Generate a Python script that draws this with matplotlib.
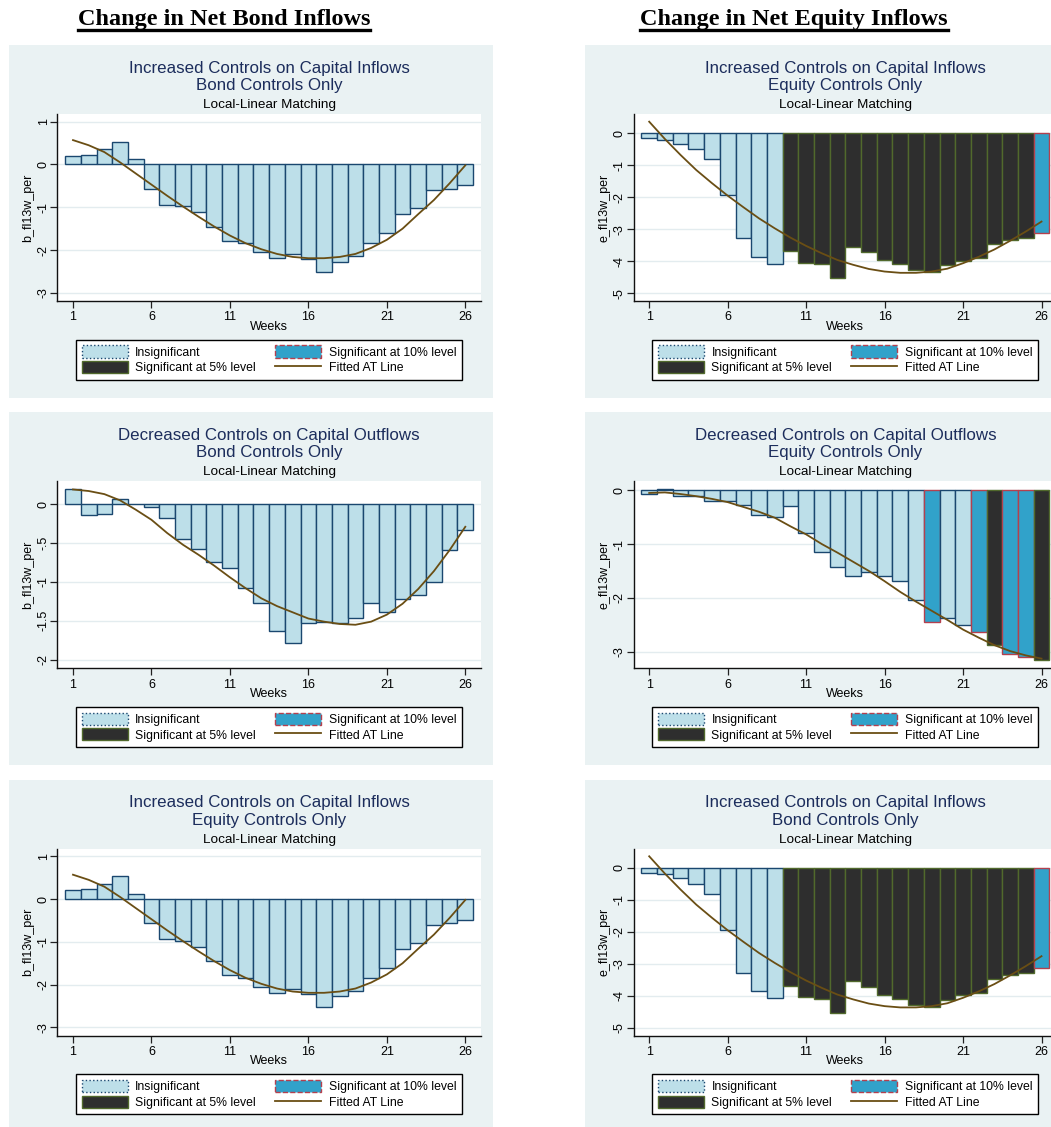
import matplotlib
matplotlib.use("Agg")
import matplotlib.pyplot as plt
from matplotlib.patches import Patch, Rectangle
from matplotlib.lines import Line2D

plt.rcParams['font.family'] = ['Liberation Sans', 'DejaVu Sans']

W, H, DPI = 1051, 1127, 100

weeks = list(range(1, 27))

# Net bond inflows, increased controls on capital inflows
bond_in_vals = [0.21, 0.23, 0.36, 0.53, 0.13, -0.57, -0.94, -0.98, -1.12, -1.45,
                -1.78, -1.84, -2.05, -2.19, -2.09, -2.21, -2.51, -2.27, -2.14, -1.84,
                -1.61, -1.16, -1.02, -0.60, -0.57, -0.48]
bond_in_fit = [0.57, 0.45, 0.29, 0.05, -0.21, -0.47, -0.73, -0.98, -1.22, -1.45,
               -1.66, -1.84, -1.98, -2.09, -2.16, -2.19, -2.19, -2.16, -2.09, -1.95,
               -1.76, -1.50, -1.16, -0.83, -0.44, -0.02]
bond_in_sig = [0] * 26

# Net equity inflows, increased controls on capital inflows
eq_in_vals = [-0.16, -0.20, -0.33, -0.49, -0.81, -1.94, -3.28, -3.86, -4.07, -3.69,
              -4.05, -4.09, -4.53, -3.55, -3.71, -3.96, -4.10, -4.28, -4.34, -4.13,
              -3.98, -3.91, -3.46, -3.34, -3.28, -3.13]
eq_in_fit = [0.36, -0.18, -0.68, -1.15, -1.56, -1.95, -2.31, -2.66, -2.97, -3.26,
             -3.52, -3.75, -3.96, -4.11, -4.24, -4.32, -4.36, -4.36, -4.32, -4.23,
             -4.06, -3.86, -3.63, -3.36, -3.07, -2.76]
eq_in_sig = [0, 0, 0, 0, 0, 0, 0, 0, 0, 2, 2, 2, 2, 2, 2, 2, 2, 2, 2, 2, 2, 2, 2, 2, 2, 1]

# Net bond inflows, decreased controls on capital outflows
bond_out_vals = [0.19, -0.14, -0.13, 0.07, 0.005, -0.04, -0.18, -0.45, -0.58, -0.74,
                 -0.82, -1.08, -1.27, -1.63, -1.79, -1.53, -1.52, -1.53, -1.46, -1.27,
                 -1.38, -1.22, -1.17, -1.00, -0.59, -0.33]
bond_out_fit = [0.19, 0.17, 0.13, 0.05, -0.07, -0.20, -0.37, -0.52, -0.65, -0.79,
                -0.94, -1.08, -1.21, -1.31, -1.39, -1.47, -1.51, -1.54, -1.55, -1.51,
                -1.42, -1.28, -1.09, -0.86, -0.59, -0.29]
bond_out_sig = [0] * 26

# Net equity inflows, decreased controls on capital outflows
eq_out_vals = [-0.06, 0.03, -0.11, -0.10, -0.20, -0.20, -0.28, -0.46, -0.50, -0.30,
               -0.80, -1.15, -1.43, -1.60, -1.52, -1.60, -1.69, -2.04, -2.44, -2.37,
               -2.50, -2.63, -2.88, -3.04, -3.10, -3.15]
eq_out_fit = [-0.05, -0.04, -0.07, -0.11, -0.16, -0.22, -0.31, -0.40, -0.51, -0.67,
              -0.82, -1.00, -1.16, -1.33, -1.50, -1.69, -1.89, -2.07, -2.24, -2.41,
              -2.59, -2.74, -2.88, -2.99, -3.07, -3.13]
eq_out_sig = [0, 0, 0, 0, 0, 0, 0, 0, 0, 0, 0, 0, 0, 0, 0, 0, 0, 0, 1, 0, 0, 1, 2, 1, 1, 2]

x_ticks = [1, 6, 11, 16, 21, 26]
bond_yticks = [1, 0, -1, -2, -3]
bond_ylabels = ['1', '0', '-1', '-2', '-3']
eq_yticks = [0, -1, -2, -3, -4, -5]
eq_ylabels = ['0', '-1', '-2', '-3', '-4', '-5']
out_bond_yticks = [0, -0.5, -1, -1.5, -2]
out_bond_ylabels = ['0', '-.5', '-1', '-1.5', '-2']
out_eq_yticks = [0, -1, -2, -3]
out_eq_ylabels = ['0', '-1', '-2', '-3']

column_headers = ['Change in Net Bond Inflows', 'Change in Net Equity Inflows']
legend_labels = ['Insignificant', 'Significant at 5% level',
                 'Significant at 10% level', 'Fitted AT Line']

# colours
BG = '#EAF2F3'
GRID = '#E3ECEF'
TITLE_C = '#1C2D5C'
INSIG_FILL, INSIG_EDGE = '#BDDFE9', '#1A476F'
SIG10_FILL, SIG10_EDGE = '#31A2CA', '#B4404E'
SIG5_FILL, SIG5_EDGE = '#2E2E2E', '#51692C'
FIT_C = '#6A4E14'

FILLS = {0: INSIG_FILL, 1: SIG10_FILL, 2: SIG5_FILL}
EDGES = {0: INSIG_EDGE, 1: SIG10_EDGE, 2: SIG5_EDGE}

fig = plt.figure(figsize=(W / DPI, H / DPI), dpi=DPI)
fig.patch.set_facecolor('white')

COL_DX = 576.2
ROW_DY = 367.3


def fx(px):
    return px / W


def fy(py):
    return 1 - py / H


def panel(col, row, title2, vals, fit, sig, yticks, ylabels, ylim, ylabel):
    dx, dy = col * COL_DX, row * ROW_DY
    # panel background
    fig.add_artist(Rectangle((fx(9 + dx), fy(398 + dy)), 483.6 / W, 353 / H,
                             transform=fig.transFigure, facecolor=BG,
                             edgecolor='none', zorder=0))
    left, right, top, bottom = 57.3 + dx, 481 + dx, 114 + dy, 301 + dy
    ax = fig.add_axes([fx(left), fy(bottom), (right - left) / W, (bottom - top) / H])
    ax.set_facecolor('white')
    ax.bar(weeks, vals, width=1.0,
           color=[FILLS[s] for s in sig], edgecolor=[EDGES[s] for s in sig],
           linewidth=1.0, zorder=2)
    ax.plot(weeks, fit, color=FIT_C, lw=1.3, zorder=3)
    ax.set_xlim(0, 27)
    ax.set_ylim(*ylim)
    ax.set_xticks(x_ticks)
    ax.set_xticklabels([str(t) for t in x_ticks], fontsize=9)
    ax.set_yticks(yticks)
    ax.set_yticklabels(ylabels, fontsize=9, rotation=90, va='center')
    ax.tick_params(axis='x', length=5, width=0.9, color='#222222', pad=2.5)
    ax.tick_params(axis='y', length=5, width=0.9, color='#222222', pad=0.5)
    ax.set_axisbelow(True)
    ax.yaxis.grid(True, color=GRID, lw=1.0)
    for s in ('top', 'right'):
        ax.spines[s].set_visible(False)
    for s in ('left', 'bottom'):
        ax.spines[s].set_color('#111111')
        ax.spines[s].set_linewidth(1.0)
    ax.set_xlabel('Weeks', fontsize=9)
    ax.xaxis.set_label_coords(0.5, -0.105)
    ax.set_ylabel(ylabel, fontsize=9, va='center', ha='center')
    ax.yaxis.set_label_coords((28.0 - 57.3) / (right - left), 0.5)

    cx = (left + right) / 2
    fig.text(fx(cx), fy(68.3 + dy), 'Increased Controls on Capital Inflows' if row != 1
             else 'Decreased Controls on Capital Outflows',
             ha='center', va='center', fontsize=12.2, color=TITLE_C)
    fig.text(fx(cx), fy(85.7 + dy), title2, ha='center', va='center',
             fontsize=12.2, color=TITLE_C)
    fig.text(fx(cx), fy(105 + dy), 'Local-Linear Matching', ha='center',
             va='center', fontsize=9.7, color='black')

    handles = [
        Patch(facecolor=INSIG_FILL, edgecolor=INSIG_EDGE, linestyle=':', linewidth=1.0),
        Patch(facecolor=SIG5_FILL, edgecolor=SIG5_EDGE, linewidth=1.0),
        Patch(facecolor=SIG10_FILL, edgecolor=SIG10_EDGE, linestyle='--', linewidth=1.0),
        Line2D([], [], color=FIT_C, lw=1.3),
    ]
    lx0, lx1, ly0 = 76 + dx, 461.7 + dx, 340 + dy
    leg = ax.legend(handles, legend_labels, ncol=2, loc='upper left',
                    bbox_to_anchor=(fx(lx0), fy(ly0), (lx1 - lx0) / W, 0.0001),
                    bbox_transform=fig.transFigure, mode='expand', borderaxespad=0,
                    fontsize=8.8, frameon=True, fancybox=False, framealpha=1,
                    edgecolor='black', handlelength=3.8, handleheight=1.15,
                    handletextpad=0.6, labelspacing=0.2, borderpad=0.45,
                    columnspacing=1.5)
    leg.get_frame().set_linewidth(1.0)
    return ax


panel(0, 0, 'Bond Controls Only', bond_in_vals, bond_in_fit, bond_in_sig,
      bond_yticks, bond_ylabels, (-3.19, 1.18), 'b_fl13w_per')
panel(1, 0, 'Equity Controls Only', eq_in_vals, eq_in_fit, eq_in_sig,
      eq_yticks, eq_ylabels, (-5.24, 0.60), 'e_fl13w_per')
panel(0, 1, 'Bond Controls Only', bond_out_vals, bond_out_fit, bond_out_sig,
      out_bond_yticks, out_bond_ylabels, (-2.11, 0.295), 'b_fl13w_per')
panel(1, 1, 'Equity Controls Only', eq_out_vals, eq_out_fit, eq_out_sig,
      out_eq_yticks, out_eq_ylabels, (-3.31, 0.167), 'e_fl13w_per')
panel(0, 2, 'Equity Controls Only', bond_in_vals, bond_in_fit, bond_in_sig,
      bond_yticks, bond_ylabels, (-3.19, 1.18), 'b_fl13w_per')
panel(1, 2, 'Bond Controls Only', eq_in_vals, eq_in_fit, eq_in_sig,
      eq_yticks, eq_ylabels, (-5.24, 0.60), 'e_fl13w_per')

# underlined column headers
renderer = fig.canvas.get_renderer()
for text, cx in zip(column_headers, [224, 794]):
    t = fig.text(fx(cx), fy(19), text, ha='center', va='center', fontsize=17.5,
                 fontweight='bold', family=['Liberation Serif', 'DejaVu Serif'])
    bb = t.get_window_extent(renderer)
    fig.add_artist(Line2D([bb.x0 / W, bb.x1 / W], [fy(30), fy(30)],
                          transform=fig.transFigure, color='black', lw=2.4))

fig.savefig('out.png', dpi=DPI)
